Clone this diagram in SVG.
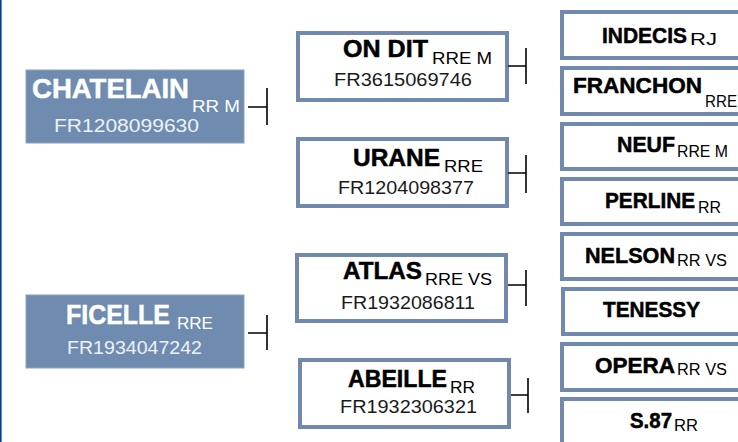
<svg xmlns="http://www.w3.org/2000/svg" width="738" height="442" viewBox="0 0 738 442">
<style>
.bg{fill:#ffffff}
.filled{fill:#6f8cb0;stroke:#8aa1c0;stroke-width:1}
.box{fill:#ffffff;stroke:#7189ad;stroke-width:4}
.name{font-family:"Liberation Sans",Arial,sans-serif;font-weight:bold;stroke-width:0.5}
.sub{font-family:"Liberation Sans",Arial,sans-serif;font-weight:normal}
.w{fill:#ffffff}
.name.w{stroke:#ffffff}
.wc{fill:#eef2f7}
.k{fill:#000000}
.name.k{stroke:#000000}
.kc{fill:#1a1a1a}
.conn{fill:none;stroke:#000000;stroke-width:1.6}
</style>
<rect class="bg" x="0" y="0" width="738" height="442"/>
<rect x="0" y="0" width="1.6" height="442" fill="#0b3d86"/>

<g id="chatelain">
<rect class="filled" x="26" y="70" width="218" height="73"/>
<text class="name w" x="32" y="98" font-size="28" textLength="157" lengthAdjust="spacingAndGlyphs">CHATELAIN</text>
<text class="sub w" x="192" y="112" font-size="17" textLength="48" lengthAdjust="spacingAndGlyphs">RR M</text>
<text class="sub wc" x="54" y="132" font-size="19" textLength="145" lengthAdjust="spacingAndGlyphs">FR1208099630</text>
</g>

<g id="ficelle">
<rect class="filled" x="26" y="295" width="218" height="73"/>
<text class="name w" x="66" y="324" font-size="27" textLength="104" lengthAdjust="spacingAndGlyphs">FICELLE</text>
<text class="sub w" x="177" y="329" font-size="17" textLength="36" lengthAdjust="spacingAndGlyphs">RRE</text>
<text class="sub wc" x="67" y="354" font-size="19" textLength="135" lengthAdjust="spacingAndGlyphs">FR1934047242</text>
</g>

<g id="ondit">
<rect class="box" x="298" y="33" width="209" height="67"/>
<text class="name k" x="343" y="57" font-size="24" textLength="85" lengthAdjust="spacingAndGlyphs">ON DIT</text>
<text class="sub k" x="432" y="64" font-size="17" textLength="60" lengthAdjust="spacingAndGlyphs">RRE M</text>
<text class="sub kc" x="334" y="86" font-size="19" textLength="138" lengthAdjust="spacingAndGlyphs">FR3615069746</text>
</g>

<g id="urane">
<rect class="box" x="298" y="139" width="209" height="67"/>
<text class="name k" x="353" y="166" font-size="24" textLength="87" lengthAdjust="spacingAndGlyphs">URANE</text>
<text class="sub k" x="444" y="172" font-size="17" textLength="39" lengthAdjust="spacingAndGlyphs">RRE</text>
<text class="sub kc" x="338" y="194" font-size="19" textLength="136" lengthAdjust="spacingAndGlyphs">FR1204098377</text>
</g>

<g id="atlas">
<rect class="box" x="297" y="255" width="209" height="66"/>
<text class="name k" x="343" y="279" font-size="24" textLength="79" lengthAdjust="spacingAndGlyphs">ATLAS</text>
<text class="sub k" x="425" y="285" font-size="17" textLength="67" lengthAdjust="spacingAndGlyphs">RRE VS</text>
<text class="sub kc" x="341" y="309" font-size="19" textLength="134" lengthAdjust="spacingAndGlyphs">FR1932086811</text>
</g>

<g id="abeille">
<rect class="box" x="300" y="360" width="209" height="67"/>
<text class="name k" x="348" y="387" font-size="24" textLength="99" lengthAdjust="spacingAndGlyphs">ABEILLE</text>
<text class="sub k" x="450" y="393" font-size="17" textLength="25" lengthAdjust="spacingAndGlyphs">RR</text>
<text class="sub kc" x="340" y="413" font-size="19" textLength="137" lengthAdjust="spacingAndGlyphs">FR1932306321</text>
</g>

<g id="indecis">
<rect class="box" x="562" y="12" width="200" height="46"/>
<text class="name k" x="602" y="43" font-size="22" textLength="85" lengthAdjust="spacingAndGlyphs">INDECIS</text>
<text class="sub k" x="690" y="45" font-size="16" textLength="27" lengthAdjust="spacingAndGlyphs">RJ</text>
</g>

<g id="franchon">
<rect class="box" x="562" y="68" width="200" height="46"/>
<text class="name k" x="573" y="93" font-size="22" textLength="129" lengthAdjust="spacingAndGlyphs">FRANCHON</text>
<text class="sub k" x="705" y="107" font-size="16" textLength="32" lengthAdjust="spacingAndGlyphs">RRE</text>
</g>

<g id="neuf">
<rect class="box" x="562" y="124" width="200" height="45"/>
<text class="name k" x="617" y="152" font-size="22" textLength="58" lengthAdjust="spacingAndGlyphs">NEUF</text>
<text class="sub k" x="677" y="157" font-size="16" textLength="51" lengthAdjust="spacingAndGlyphs">RRE M</text>
</g>

<g id="perline">
<rect class="box" x="562" y="179" width="200" height="45"/>
<text class="name k" x="605" y="208" font-size="22" textLength="90" lengthAdjust="spacingAndGlyphs">PERLINE</text>
<text class="sub k" x="698" y="213" font-size="16" textLength="23" lengthAdjust="spacingAndGlyphs">RR</text>
</g>

<g id="nelson">
<rect class="box" x="562" y="234" width="200" height="45"/>
<text class="name k" x="585" y="263" font-size="22" textLength="90" lengthAdjust="spacingAndGlyphs">NELSON</text>
<text class="sub k" x="677" y="266" font-size="16" textLength="50" lengthAdjust="spacingAndGlyphs">RR VS</text>
</g>

<g id="tenessy">
<rect class="box" x="563" y="289" width="200" height="45"/>
<text class="name k" x="603" y="317" font-size="22" textLength="97" lengthAdjust="spacingAndGlyphs">TENESSY</text>
</g>

<g id="opera">
<rect class="box" x="562" y="344" width="200" height="46"/>
<text class="name k" x="595" y="373" font-size="22" textLength="80" lengthAdjust="spacingAndGlyphs">OPERA</text>
<text class="sub k" x="677" y="375" font-size="16" textLength="50" lengthAdjust="spacingAndGlyphs">RR VS</text>
</g>

<g id="s87">
<rect class="box" x="562" y="399" width="200" height="60"/>
<text class="name k" x="630" y="428" font-size="22" textLength="42" lengthAdjust="spacingAndGlyphs">S.87</text>
<text class="sub k" x="674" y="431" font-size="16" textLength="24" lengthAdjust="spacingAndGlyphs">RR</text>
</g>

<g id="connectors">
<path class="conn" d="M248 107H267M267 88V125"/>
<path class="conn" d="M248 333H267M267 315V350"/>
<path class="conn" d="M508 66H526M526 48V84"/>
<path class="conn" d="M508 173H526M526 155V193"/>
<path class="conn" d="M508 285H526M526 270V306"/>
<path class="conn" d="M511 395H528M528 378V413"/>
</g>
</svg>
